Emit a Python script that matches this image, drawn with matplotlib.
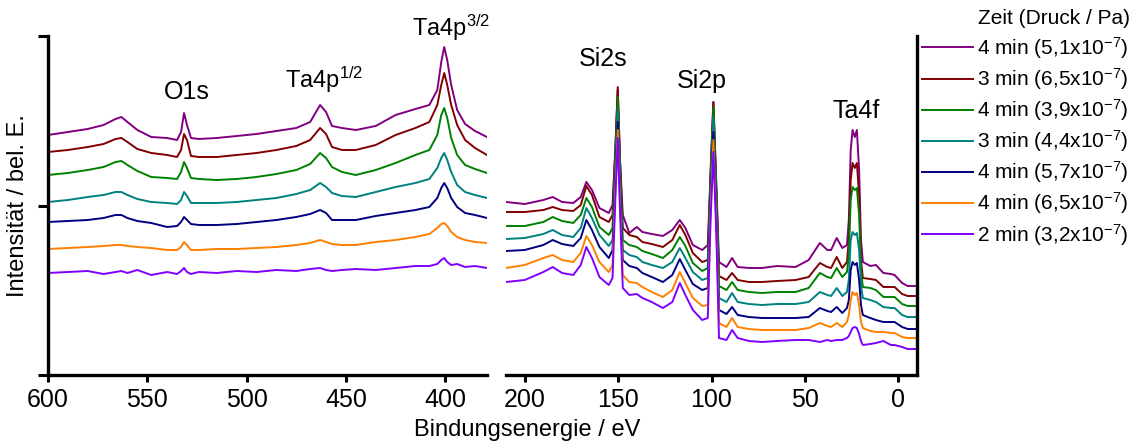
import numpy as np
import matplotlib.pyplot as plt

plt.rcParams['font.family'] = ['Liberation Sans', 'DejaVu Sans']
plt.rcParams['mathtext.fontset'] = 'custom'
plt.rcParams['mathtext.rm'] = 'Liberation Sans'
plt.rcParams['mathtext.it'] = 'Liberation Sans:italic'
plt.rcParams['mathtext.bf'] = 'Liberation Sans:bold'

# binding energy grids (eV)
energy_left = [600, 590, 580, 572, 566, 563, 560, 555, 548, 540, 535, 533, 531.5, 530, 528,
               524, 515, 505, 495, 485, 475, 468, 463, 460, 457, 452, 445, 435, 425, 415,
               408, 404, 402, 400.5, 399, 397, 394, 390, 385, 379]
energy_right = [210, 200, 190, 185, 180, 174, 170, 167, 164, 160, 155, 153, 151.5, 150.2, 149,
                147.5, 144, 140, 137, 132, 126, 121, 117, 114, 110, 105, 102, 100.5, 99, 97.5,
                96, 92, 89, 86, 80, 73, 65, 55, 48, 42, 38, 36, 33, 30, 27.5,
                26.5, 25.5, 24.5, 23.3, 22.2, 21, 20, 19, 15, 12, 8, 4, 2, -2, -5, -10]

# intensities (arb. units, stacked as in the figure)
left_4min_51 = [240, 243, 246, 250, 256, 258, 253, 245, 238, 237, 235, 243, 262, 250, 237, 236, 237, 239, 241, 244,
                247, 253, 270, 263, 249, 247, 245, 249, 260, 266, 270, 285, 313, 328, 315, 290, 265, 251, 244, 238]
left_3min_65 = [223, 225, 228, 231, 236, 237, 233, 226, 222, 220, 218, 225, 241, 235, 219, 218, 218, 220, 222, 225,
                229, 235, 247, 241, 228, 225, 225, 230, 240, 247, 253, 270, 290, 302, 290, 270, 250, 235, 227, 220]
left_4min_39 = [200, 202, 205, 208, 213, 214, 210, 204, 198, 197, 196, 203, 213, 207, 197, 196, 195, 196, 198, 201,
                205, 211, 222, 217, 208, 203, 200, 205, 212, 220, 225, 240, 260, 267, 257, 237, 220, 210, 206, 202]
left_3min_44 = [173, 175, 178, 180, 183, 183, 180, 176, 173, 172, 171, 175, 183, 179, 172, 172, 172, 173, 175, 177,
                181, 185, 192, 188, 182, 179, 178, 183, 188, 192, 196, 207, 217, 222, 215, 203, 190, 183, 180, 177]
left_4min_57 = [153, 154, 155, 157, 160, 160, 157, 154, 152, 148, 149, 153, 158, 155, 151, 150, 150, 151, 153, 155,
                158, 161, 165, 162, 155, 155, 155, 159, 162, 165, 168, 177, 187, 192, 187, 177, 168, 162, 160, 157]
left_4min_65 = [126, 127, 128, 129, 130, 130, 129, 128, 127, 125, 125, 128, 133, 130, 125, 125, 126, 126, 127, 128,
                130, 132, 135, 133, 131, 130, 130, 133, 135, 138, 141, 147, 151, 152, 149, 143, 138, 135, 133, 132]
left_2min_32 = [102, 103, 104, 101, 103, 104, 102, 105, 100, 103, 101, 104, 107, 103, 101, 103, 102, 104, 103, 105,
                104, 106, 107, 105, 104, 105, 106, 105, 107, 109, 109, 111, 115, 117, 113, 110, 111, 108, 109, 107]

right_4min_51 = [173, 171, 175, 178, 173, 172, 178, 193, 185, 167, 162, 170, 225, 285, 215, 160, 142, 148, 143, 141,
                 139, 145, 155, 147, 130, 125, 130, 205, 273, 195, 113, 108, 117, 108, 107, 107, 109, 108, 115, 132,
                 125, 125, 137, 127, 130, 155, 225, 245, 238, 245, 205, 135, 113, 109, 110, 102, 101, 100, 92, 89, 89]
right_3min_65 = [163, 163, 165, 168, 165, 164, 170, 189, 180, 158, 153, 160, 225, 288, 215, 147, 140, 138, 133, 131,
                 128, 135, 150, 140, 122, 113, 115, 200, 273, 190, 99, 95, 102, 95, 93, 93, 94, 95, 98, 112,
                 108, 107, 118, 107, 113, 135, 195, 212, 207, 212, 180, 115, 97, 96, 95, 88, 88, 88, 81, 79, 79]
right_4min_39 = [149, 149, 153, 158, 154, 152, 160, 177, 168, 148, 140, 147, 215, 278, 205, 135, 130, 128, 124, 121,
                 117, 125, 138, 129, 112, 104, 107, 195, 268, 185, 89, 85, 93, 85, 83, 82, 83, 83, 87, 102,
                 98, 97, 107, 98, 103, 120, 175, 188, 185, 187, 160, 105, 88, 87, 85, 78, 78, 78, 71, 69, 69]
right_3min_44 = [136, 137, 141, 145, 140, 138, 147, 167, 157, 140, 129, 135, 205, 265, 195, 125, 120, 118, 113, 110,
                 107, 113, 127, 117, 103, 95, 97, 185, 258, 175, 77, 73, 82, 73, 71, 70, 71, 71, 73, 83,
                 80, 79, 87, 79, 83, 95, 135, 143, 140, 142, 125, 90, 77, 75, 73, 68, 67, 67, 60, 58, 58]
right_4min_57 = [124, 125, 130, 135, 131, 129, 137, 155, 145, 128, 117, 125, 195, 253, 185, 115, 109, 107, 102, 98,
                 93, 100, 116, 105, 91, 85, 87, 175, 243, 165, 65, 61, 68, 60, 58, 57, 57, 57, 58, 67,
                 64, 63, 68, 62, 67, 75, 105, 113, 110, 112, 95, 70, 60, 57, 55, 53, 53, 53, 48, 46, 46]
right_4min_65 = [107, 110, 117, 120, 115, 113, 122, 139, 130, 113, 103, 110, 185, 245, 175, 100, 93, 92, 88, 83,
                 78, 85, 103, 92, 77, 69, 70, 165, 235, 155, 52, 48, 57, 48, 46, 45, 45, 45, 47, 52,
                 49, 48, 52, 48, 53, 60, 75, 83, 80, 82, 70, 53, 47, 44, 43, 43, 42, 42, 38, 37, 37]
right_2min_32 = [93, 95, 103, 108, 102, 100, 110, 128, 117, 98, 90, 97, 175, 237, 165, 87, 80, 81, 77, 73,
                 67, 73, 92, 80, 65, 55, 57, 155, 223, 145, 37, 35, 45, 37, 34, 33, 34, 35, 35, 33,
                 35, 34, 35, 35, 37, 39, 43, 47, 48, 47, 41, 34, 30, 31, 32, 34, 30, 30, 28, 26, 26]

labels = ['4 min (5,1x10$^{-7}$)', '3 min (6,5x10$^{-7}$)', '4 min (3,9x10$^{-7}$)',
          '3 min (4,4x10$^{-7}$)', '4 min (5,7x10$^{-7}$)', '4 min (6,5x10$^{-7}$)',
          '2 min (3,2x10$^{-7}$)']
colors = ['#800080', '#800000', '#008000', '#008080', '#000080', '#FF8000', '#8000FF']
left_series = [left_4min_51, left_3min_65, left_4min_39, left_3min_44, left_4min_57, left_4min_65, left_2min_32]
right_series = [right_4min_51, right_3min_65, right_4min_39, right_3min_44, right_4min_57, right_4min_65, right_2min_32]

fig = plt.figure(figsize=(11.42, 4.45), dpi=100)
ax1 = fig.add_axes([0.042, 0.1573, 0.3844, 0.7618])
ax2 = fig.add_axes([0.4431, 0.1573, 0.3599, 0.7618])

lines = []
for yl, yr, c, lab in zip(left_series, right_series, colors, labels):
    l, = ax1.plot(energy_left, yl, color=c, lw=1.4, label=lab)
    ax2.plot(energy_right, yr, color=c, lw=1.4)
    lines.append(l)

ymax = 339
for ax in (ax1, ax2):
    ax.set_ylim(0, ymax)
    ax.spines['top'].set_visible(False)
    ax.spines['bottom'].set_linewidth(2.4)
    ax.tick_params(axis='x', direction='out', length=5, width=2.2, labelsize=18, pad=4)

ax1.set_xlim(600, 379)
ax1.set_xticks([600, 550, 500, 450, 400])
ax1.spines['right'].set_visible(False)
ax1.spines['left'].set_linewidth(2.4)
ax1.set_yticks([0, ymax / 2, ymax])
ax1.set_yticklabels([])
ax1.tick_params(axis='y', direction='out', length=7, width=2.2)
ax1.set_ylabel('Intensität / bel. E.', fontsize=17, labelpad=3)

ax2.set_xlim(210, -10)
ax2.set_xticks([200, 150, 100, 50, 0])
ax2.spines['left'].set_visible(False)
ax2.spines['right'].set_linewidth(2.4)
ax2.set_yticks([])

fig.text(0.462, 0.034, 'Bindungsenergie / eV', fontsize=17, ha='center', va='center')

# peak labels
ax1.text(530, 283, 'O1s', fontsize=18, ha='center', va='center')
ax1.text(480.7, 287, 'Ta4p$^{1/2}$', fontsize=17, ha='left', va='baseline')
ax1.text(416.7, 339, 'Ta4p$^{3/2}$', fontsize=17, ha='left', va='baseline')
ax2.text(157.8, 316, 'Si2s', fontsize=18, ha='center', va='center')
ax2.text(105.3, 294, 'Si2p', fontsize=18, ha='center', va='center')
ax2.text(22.5, 264, 'Ta4f', fontsize=18, ha='center', va='center')

fig.text(978 / 1142, 1 - 19 / 445, 'Zeit (Druck / Pa)', fontsize=15, ha='left', va='center')
fig.legend(handles=lines, loc='upper left', bbox_to_anchor=(922 / 1142, 1 - 35 / 445),
           frameon=False, fontsize=15, handlelength=2.45, handletextpad=0.2,
           labelspacing=0.25, borderpad=0, borderaxespad=0)

fig.savefig('out.png', dpi=100)
